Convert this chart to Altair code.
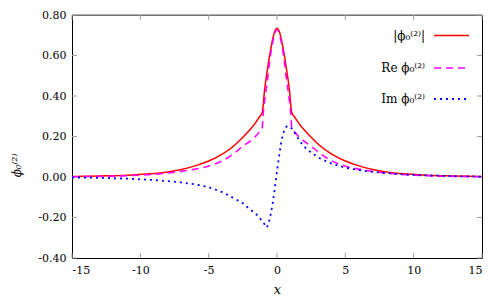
import altair as alt
import pandas as pd

# |phi| (red, solid)
x_abs = [-15, -13, -11, -9.5, -8, -7, -6, -5, -4, -3, -2.5, -2, -1.6, -1.3, -1.08, -0.9, -0.7, -0.5, -0.3, -0.15,
         0, 0.15, 0.3, 0.5, 0.7, 0.9, 1.08, 1.3, 1.6, 2, 2.5, 3, 4, 5, 6, 7, 8, 9.5, 11, 13, 15]
y_abs = [0.002, 0.005, 0.009, 0.015, 0.025, 0.037, 0.055, 0.079, 0.113, 0.163, 0.196, 0.232, 0.265, 0.295, 0.318,
         0.435, 0.53, 0.615, 0.685, 0.722, 0.735, 0.722, 0.685, 0.615, 0.53, 0.435, 0.318, 0.295, 0.265, 0.232,
         0.196, 0.163, 0.113, 0.079, 0.055, 0.037, 0.025, 0.015, 0.009, 0.005, 0.002]

# Re phi (magenta, dashed)
x_re = [-15, -13, -11, -9.5, -7.8, -6.4, -5.1, -4, -3.2, -2.5, -1.7, -1.3, -1.08, -1.0, -0.9, -0.7, -0.5, -0.3, -0.15,
        0, 0.15, 0.3, 0.5, 0.7, 0.9, 1.0, 1.08, 1.3, 1.7, 2.5, 3.2, 4, 5.1, 6.4, 7.8, 9.5, 11, 13, 15]
y_re = [0.001, 0.003, 0.006, 0.011, 0.021, 0.034, 0.052, 0.08, 0.114, 0.152, 0.192, 0.222, 0.245, 0.32, 0.38,
        0.48, 0.59, 0.67, 0.712, 0.727, 0.712, 0.67, 0.59, 0.48, 0.38, 0.32, 0.245, 0.222, 0.192, 0.152,
        0.114, 0.08, 0.052, 0.034, 0.021, 0.011, 0.006, 0.003, 0.001]

# Im phi (blue, dotted)
x_im = [-15, -13, -11, -9.5, -8, -7, -6, -5, -4, -3, -2.5, -2, -1.5, -1.2, -1.0, -0.85, -0.74, -0.6, -0.45, -0.3,
        -0.15, 0, 0.15, 0.3, 0.45, 0.6, 0.75, 0.9, 1.1, 1.4, 1.9, 2.5, 3.2, 4, 5, 6, 7, 8, 9.5, 11, 13, 15]
y_im = [-0.002, -0.004, -0.008, -0.013, -0.02, -0.027, -0.036, -0.05, -0.075, -0.11, -0.13, -0.158, -0.185,
        -0.208, -0.225, -0.24, -0.25, -0.225, -0.18, -0.125, -0.05, 0.03, 0.1, 0.17, 0.215, 0.243, 0.252, 0.25,
        0.238, 0.205, 0.155, 0.12, 0.09, 0.066, 0.046, 0.034, 0.025, 0.019, 0.012, 0.008, 0.004, 0.002]

x_ticks = [-15, -10, -5, 0, 5, 10, 15]
y_ticks = [-0.4, -0.2, 0.0, 0.2, 0.4, 0.6, 0.8]
legend_labels = ["|ϕ₀⁽²⁾|", "Re ϕ₀⁽²⁾", "Im ϕ₀⁽²⁾"]
y_title = "ϕ₀⁽²⁾"
x_title = "x"

W, H = 410, 243
FONT = "DejaVu Serif"
TICK = "#a0a0a0"

xs = alt.Scale(domain=[-15, 15], nice=False, zero=False)
ys = alt.Scale(domain=[-0.4, 0.8], nice=False, zero=False)

x_axis = alt.Axis(values=x_ticks, tickSize=0, domain=False, grid=False, labelFont=FONT, labelFontSize=11,
                  labelColor="black", labelPadding=6,
                  labelExpr="(datum.value < 0 ? '-' : '') + format(abs(datum.value), 'd')",
                  title=x_title, titleFont=FONT, titleFontSize=13, titleFontStyle="italic",
                  titleFontWeight="normal", titleColor="black", titleY=35, titleBaseline="alphabetic")
y_axis = alt.Axis(values=y_ticks, tickSize=0, domain=False, grid=False, labelFont=FONT, labelFontSize=11,
                  labelColor="black", labelPadding=6,
                  labelExpr="(datum.value < 0 ? '-' : '') + format(abs(datum.value), '.2f')",
                  title=y_title, titleFont=FONT, titleFontSize=12, titleFontWeight="normal",
                  titleFontStyle="italic",
                  titleColor="black", titleX=-56, titleY=150, titleAngle=270, titleAlign="center",
                  titleBaseline="middle")

df_abs = pd.DataFrame({"x": x_abs, "y": y_abs})
df_re = pd.DataFrame({"x": x_re, "y": y_re})
df_im = pd.DataFrame({"x": x_im, "y": y_im})
df_xt = pd.DataFrame({"t": x_ticks})
df_yt = pd.DataFrame({"t": y_ticks})
one = pd.DataFrame({"a": [0]})

l_abs = alt.Chart(df_abs).mark_line(color="#ff0000", strokeWidth=1.5, interpolate="monotone").encode(
    x=alt.X("x:Q", scale=xs, axis=x_axis), y=alt.Y("y:Q", scale=ys, axis=y_axis))
l_re = alt.Chart(df_re).mark_line(color="#ff00ff", strokeWidth=1.6, strokeDash=[7, 5],
                                  interpolate="monotone").encode(x="x:Q", y="y:Q")
l_im = alt.Chart(df_im).mark_line(color="#0000ff", strokeWidth=1.8, strokeDash=[2, 4],
                                  interpolate="linear").encode(x="x:Q", y="y:Q")

xt_bot = alt.Chart(df_xt).mark_rule(color=TICK, strokeWidth=1).encode(
    x="t:Q", y=alt.value(H), y2=alt.value(H - 5))
xt_top = alt.Chart(df_xt).mark_rule(color=TICK, strokeWidth=1).encode(
    x="t:Q", y=alt.value(0), y2=alt.value(5))
yt_left = alt.Chart(df_yt).mark_rule(color=TICK, strokeWidth=1).encode(
    y="t:Q", x=alt.value(0), x2=alt.value(5))
yt_right = alt.Chart(df_yt).mark_rule(color=TICK, strokeWidth=1).encode(
    y="t:Q", x=alt.value(W - 5), x2=alt.value(W))
top_border = alt.Chart(one).mark_rule(color="#999999", strokeWidth=1.5).encode(
    x=alt.value(0), x2=alt.value(W), y=alt.value(0))

leg_y = [20.5, 53, 84]
leg_styles = [dict(color="#ff0000", strokeWidth=1.5),
              dict(color="#ff00ff", strokeWidth=1.6, strokeDash=[7, 5]),
              dict(color="#0000ff", strokeWidth=1.8, strokeDash=[2, 4])]
leg_layers = []
for lab, yy, st in zip(legend_labels, leg_y, leg_styles):
    leg_layers.append(alt.Chart(one).mark_rule(**st).encode(
        x=alt.value(362), x2=alt.value(397), y=alt.value(yy)))
    leg_layers.append(alt.Chart(one).mark_text(align="right", baseline="middle", font=FONT,
                                               fontSize=12, color="black").encode(
        x=alt.value(353), y=alt.value(yy), text=alt.value(lab)))

chart = alt.layer(
    l_abs, xt_bot, xt_top, yt_left, yt_right, top_border, l_re, l_im, *leg_layers
).properties(
    width=W, height=H, autosize=alt.AutoSizeParams(type="none"),
    padding={"left": 64, "top": 7, "right": 8, "bottom": 40},
    background="white"
).configure_view(
    stroke="black", strokeWidth=1
).configure_axis(
    labelFont=FONT, titleFont=FONT, labelFontSize=11
)

chart.save("out.html", embed_options={"renderer": "svg", "actions": False})
